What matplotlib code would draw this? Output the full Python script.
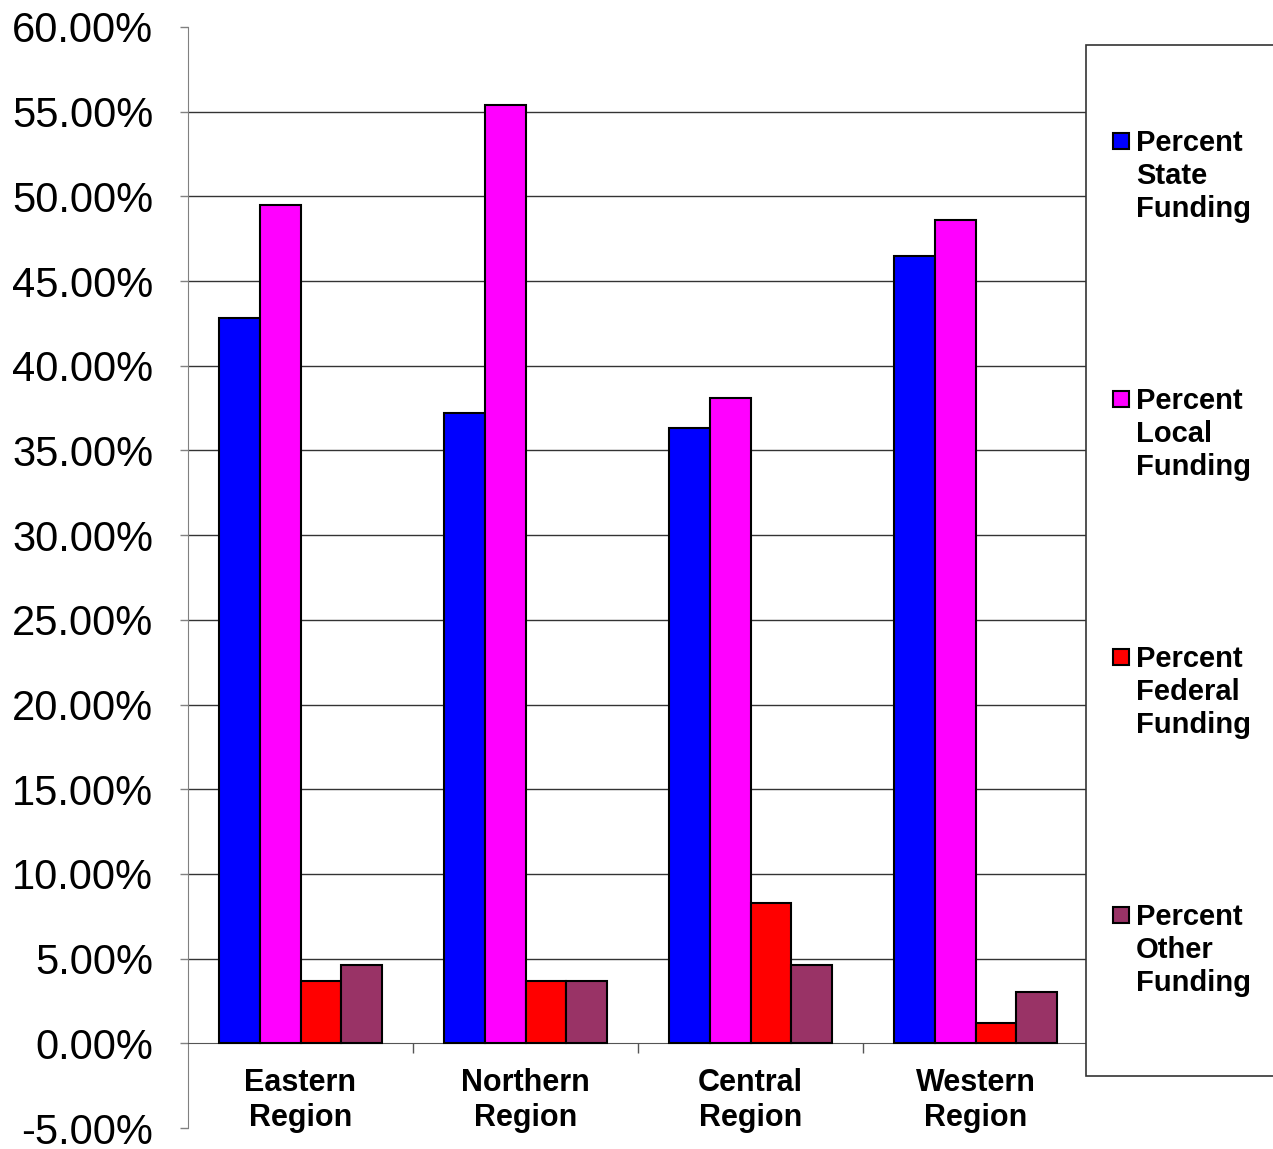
import numpy as np
import matplotlib.pyplot as plt
from matplotlib.patches import Rectangle

plt.rcParams['font.family'] = ['Liberation Sans', 'DejaVu Sans']

regions = ['Eastern\nRegion', 'Northern\nRegion', 'Central\nRegion', 'Western\nRegion']
series = ['Percent\nState\nFunding', 'Percent\nLocal\nFunding',
          'Percent\nFederal\nFunding', 'Percent\nOther\nFunding']
state = [42.8, 37.2, 36.3, 46.5]
local = [49.5, 55.4, 38.1, 48.6]
federal = [3.7, 3.7, 8.3, 1.2]
other = [4.6, 3.7, 4.6, 3.0]
colors = ['#0000FF', '#FF00FF', '#FF0000', '#993366']

W, H = 1273, 1149
fig = plt.figure(figsize=(W / 100, H / 100), dpi=100)
ax = fig.add_axes([188 / W, 1 - 1128 / H, 900 / W, (1128 - 27) / H])

x = np.arange(len(regions))
w = 0.182
for i, (vals, c) in enumerate(zip([state, local, federal, other], colors)):
    ax.bar(x + (i - 1.5) * w, vals, w, color=c, edgecolor='black', linewidth=1.5, zorder=3)

ax.set_xlim(-0.5, 3.5)
ax.set_ylim(-5, 60)
ax.hlines(np.arange(5, 56, 5), -0.5, 3.5, color='#333333', linewidth=1, zorder=1)

ax.set_yticks(np.arange(-5, 61, 5))
ax.set_yticklabels(['%.2f%%' % v for v in np.arange(-5, 61, 5)])
ax.tick_params(axis='y', labelsize=30, length=6, width=1, color='#808080', pad=19)

ax.spines['bottom'].set_position(('data', 0))
ax.spines['bottom'].set_color('#555555')
ax.spines['left'].set_color('#808080')
ax.spines['top'].set_visible(False)
ax.spines['right'].set_visible(False)
ax.set_xticks(x)
ax.set_xticklabels(regions, fontsize=22, fontweight='bold')
ax.tick_params(axis='x', which='major', length=0, pad=18)
ax.set_xticks([0.5, 1.5, 2.5], minor=True)
ax.tick_params(axis='x', which='minor', length=7, width=1, color='#555555')

# legend box
fig.patches.append(Rectangle((1086 / W, 1 - 1076 / H), 300 / W, (1076 - 45) / H,
                             transform=fig.transFigure, facecolor='white',
                             edgecolor='#333333', linewidth=1.2, zorder=5))
for j, (lab, c) in enumerate(zip(series, colors)):
    yc = 141 + j * 258
    fig.patches.append(Rectangle((1113 / W, 1 - (yc + 8) / H), 16 / W, 16 / H,
                                 transform=fig.transFigure, facecolor=c,
                                 edgecolor='black', linewidth=1.5, zorder=6))
    fig.text(1136 / W, 1 - (yc - 12) / H, lab, fontsize=21, fontweight='bold',
             va='top', ha='left', linespacing=1.22, zorder=7)

fig.savefig('out.png', dpi=100)
